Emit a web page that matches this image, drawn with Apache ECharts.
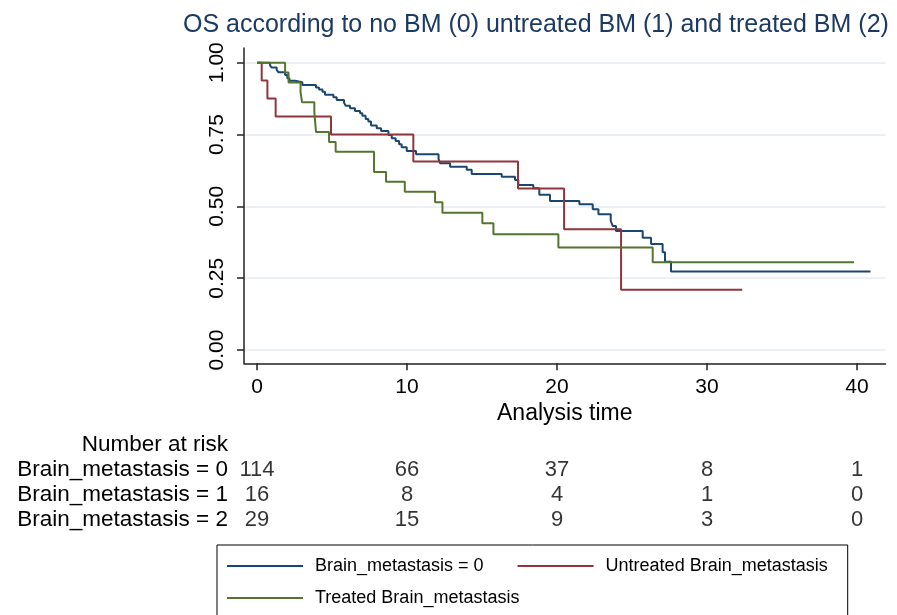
<!DOCTYPE html>
<html>
<head>
<meta charset="utf-8">
<title>OS by brain metastasis</title>
<script src="https://cdn.jsdelivr.net/npm/echarts@6/dist/echarts.min.js"></script>
<style>
  html, body { margin: 0; padding: 0; background: #fff; }
  #main { width: 897px; height: 615px; }
</style>
</head>
<body>
<div id="main"></div>
<script>
// Kaplan-Meier step curves (time, survival)
var blueTime = [0, 0.87, 0.98, 1.31, 1.42, 1.87, 2.02, 2.16, 2.53, 3.02, 3.93, 4.13, 4.36, 4.53, 5.09, 5.31, 5.8, 5.91, 6.2, 6.53, 6.87, 7.02, 7.24, 7.42, 7.6, 7.98, 8.27, 8.76, 8.98, 9.24, 9.47, 9.64, 9.98, 10.6, 12.1, 12.2, 12.87, 13.98, 14.31, 16.31, 17.2, 17.42, 18.42, 18.82, 19.53, 21.49, 22.38, 22.76, 23.58, 23.71, 23.93, 25.71, 26.27, 27.04, 27.2, 27.6, 40.9];
var blueSurv = [1, 0.99, 0.983, 0.975, 0.967, 0.957, 0.946, 0.937, 0.932, 0.922, 0.914, 0.907, 0.899, 0.888, 0.88, 0.87, 0.861, 0.85, 0.841, 0.832, 0.824, 0.815, 0.804, 0.795, 0.781, 0.772, 0.762, 0.748, 0.737, 0.727, 0.716, 0.706, 0.693, 0.681, 0.665, 0.65, 0.638, 0.627, 0.613, 0.603, 0.592, 0.574, 0.563, 0.54, 0.519, 0.507, 0.49, 0.473, 0.45, 0.432, 0.414, 0.391, 0.369, 0.34, 0.307, 0.273, 0.273];

var redTime = [0, 0.31, 0.69, 1.24, 4.93, 10.42, 17.4, 20.47, 24.27, 32.35];
var redSurv = [1, 0.9375, 0.875, 0.8125, 0.75, 0.656, 0.5625, 0.42, 0.21, 0.21];

var greenTime = [0, 1.87, 2.1, 2.9, 3.0, 3.82, 3.93, 4.8, 5.24, 7.8, 8.6, 9.85, 11.87, 12.36, 15.02, 15.76, 20.09, 26.38, 39.8];
var greenSurv = [1, 0.966, 0.931, 0.897, 0.862, 0.828, 0.759, 0.724, 0.69, 0.62, 0.586, 0.551, 0.514, 0.478, 0.441, 0.403, 0.357, 0.306, 0.306];

var seriesNames = ['Brain_metastasis = 0', 'Untreated Brain_metastasis', 'Treated Brain_metastasis'];

// number at risk table
var riskTimes = [0, 10, 20, 30, 40];
var riskRows = ['Number at risk', 'Brain_metastasis = 0', 'Brain_metastasis = 1', 'Brain_metastasis = 2'];
var risk0 = [114, 66, 37, 8, 1];
var risk1 = [16, 8, 4, 1, 0];
var risk2 = [29, 15, 9, 3, 0];

var yTicks = [0, 0.25, 0.5, 0.75, 1];
var xTicks = [0, 10, 20, 30, 40];

var font = "'Liberation Sans', Arial, sans-serif";

function zip(t, s) {
  return t.map(function (v, i) { return [v, s[i]]; });
}

function riskData(row, vals) {
  return riskTimes.map(function (t, i) { return [t, row, vals[i]]; });
}

function kmLine(name, color, t, s) {
  return {
    name: name,
    type: 'line',
    step: 'end',
    xAxisIndex: 0,
    yAxisIndex: 0,
    symbol: 'none',
    color: color,
    lineStyle: { color: color, width: 2 },
    data: zip(t, s)
  };
}

var chart = echarts.init(document.getElementById('main'));
chart.setOption({
  animation: false,
  textStyle: { fontFamily: font },
  title: {
    text: 'OS according to no BM (0) untreated BM (1) and treated BM (2)',
    left: 183,
    top: 13,
    padding: 0,
    textStyle: { fontFamily: font, fontSize: 25, fontWeight: 'normal', color: '#1c3a63' }
  },
  legend: {
    left: 217,
    top: 545,
    width: 620,
    padding: [12, 20, 10, 10],
    borderColor: '#000',
    borderWidth: 1,
    icon: 'rect',
    itemWidth: 76,
    itemHeight: 2,
    itemGap: 14,
    formatter: function (name) {
      // pad the first label so the second item lines up like the original
      var pad = name === seriesNames[0] ? '\u00a0\u00a0\u00a0\u00a0' : '';
      return '{n|' + name + pad + '}';
    },
    textStyle: {
      fontFamily: font,
      fontSize: 18,
      color: '#000',
      rich: {
        n: { fontFamily: font, fontSize: 18, color: '#000', padding: [0, 0, 0, 7] }
      }
    },
    data: seriesNames
  },
  grid: [
    { left: 244, right: 11.5, top: 48, height: 315.3 },
    { left: 244, right: 11.5, top: 432, height: 100 }
  ],
  xAxis: [{
    type: 'value',
    gridIndex: 0,
    min: -0.87,
    max: 41.9,
    name: 'Analysis time',
    nameLocation: 'middle',
    nameGap: 38,
    nameTextStyle: { fontFamily: font, fontSize: 23, color: '#000' },
    axisLine: { onZero: false, lineStyle: { color: '#222', width: 1.5 } },
    axisTick: { customValues: xTicks, length: 7, lineStyle: { color: '#222', width: 1.5 } },
    axisLabel: { customValues: xTicks, fontSize: 21, color: '#000', margin: 13 },
    splitLine: { show: false }
  }, {
    type: 'value',
    gridIndex: 1,
    min: -0.87,
    max: 41.9,
    show: false
  }],
  yAxis: [{
    type: 'value',
    gridIndex: 0,
    min: -0.046,
    max: 1.051,
    axisLine: { show: true, onZero: false, lineStyle: { color: '#222', width: 1.5 } },
    axisTick: { show: true, customValues: yTicks, length: 7, lineStyle: { color: '#222', width: 1.5 } },
    axisLabel: {
      customValues: yTicks,
      rotate: 90,
      fontSize: 21,
      color: '#000',
      margin: 16,
      formatter: function (v) { return v.toFixed(2); }
    },
    splitLine: { show: true, lineStyle: { color: '#e5edf2', width: 1.5 } }
  }, {
    type: 'category',
    gridIndex: 1,
    inverse: true,
    data: riskRows,
    axisLine: { show: false },
    axisTick: { show: false },
    splitLine: { show: false },
    axisLabel: { interval: 0, fontSize: 22.5, color: '#000', margin: 16 }
  }],
  series: [
    kmLine(seriesNames[0], '#1a476f', blueTime, blueSurv),
    kmLine(seriesNames[1], '#90353b', redTime, redSurv),
    kmLine(seriesNames[2], '#55752f', greenTime, greenSurv),
    {
      type: 'scatter',
      xAxisIndex: 1,
      yAxisIndex: 1,
      symbolSize: 1,
      itemStyle: { color: 'transparent' },
      label: {
        show: true,
        position: 'inside',
        fontSize: 22,
        color: '#000',
        formatter: function (p) { return p.value[2]; }
      },
      data: riskData(1, risk0).concat(riskData(2, risk1), riskData(3, risk2))
    }
  ]
});
</script>
</body>
</html>
